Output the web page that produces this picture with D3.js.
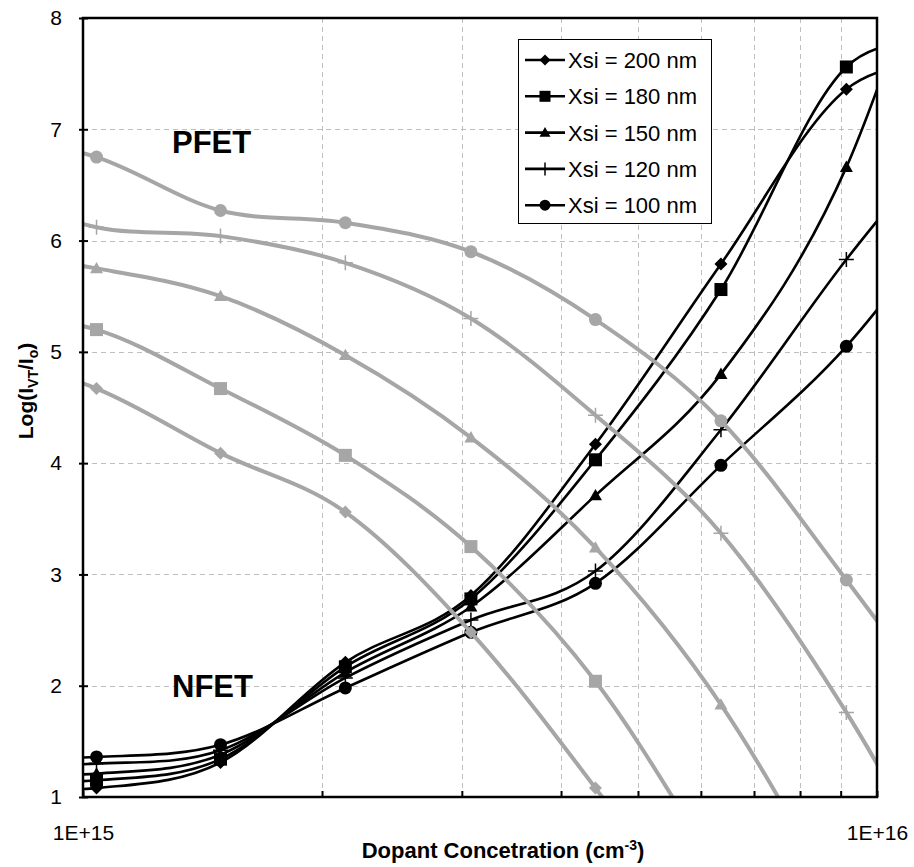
<!DOCTYPE html>
<html>
<head>
<meta charset="utf-8">
<script src="https://cdn.jsdelivr.net/npm/d3@7"></script>
<style>
  html, body { margin: 0; padding: 0; background: #fff; }
  svg { display: block; }
  text { font-family: "Liberation Sans", Arial, sans-serif; }
</style>
</head>
<body>
<svg id="chart" width="914" height="867"></svg>
<script>
// Doping concentrations (cm^-3). The first and last entries sit just outside
// the plotted decade so the smoothed curves run to the frame edges.
const concentration = [0.722e15, 1.04e15, 1.49e15, 2.14e15, 3.08e15, 4.42e15, 6.36e15, 9.15e15, 1.32e16];

// NFET: Log(I_VT/I_o) per silicon thickness
const nfet200 = [1.08, 1.08, 1.31, 2.21, 2.81, 4.17, 5.79, 7.36, 7.62];
const nfet180 = [1.15, 1.15, 1.34, 2.17, 2.78, 4.03, 5.56, 7.56, 7.75];
const nfet150 = [1.21, 1.21, 1.38, 2.12, 2.71, 3.71, 4.80, 6.66, 9.9];
const nfet120 = [1.30, 1.30, 1.42, 2.07, 2.59, 3.03, 4.30, 5.83, 7.2];
const nfet100 = [1.36, 1.36, 1.47, 1.98, 2.48, 2.92, 3.98, 5.05, 6.5];

// PFET: Log(I_VT/I_o) per silicon thickness
const pfet200 = [5.0, 4.67, 4.09, 3.56, 2.48, 1.08, -0.5, -2.2, -4.0];
const pfet180 = [5.35, 5.20, 4.67, 4.07, 3.25, 2.04, 0.3, -1.5, -3.3];
const pfet150 = [5.9, 5.75, 5.50, 4.97, 4.23, 3.24, 1.83, -0.1, -2.3];
const pfet120 = [6.5, 6.12, 6.04, 5.80, 5.30, 4.43, 3.37, 1.76, -0.25];
const pfet100 = [7.0, 6.75, 6.27, 6.16, 5.90, 5.29, 4.38, 2.95, 1.4];

const seriesNames = ["Xsi = 200 nm", "Xsi = 180 nm", "Xsi = 150 nm", "Xsi = 120 nm", "Xsi = 100 nm"];
const markerTypes = ["diamond", "square", "triangle", "plus", "circle"];

const xTickValues = [1e15, 2e15, 3e15, 4e15, 5e15, 6e15, 7e15, 8e15, 9e15, 1e16];
const xTickLabels = { 1e15: "1E+15", 1e16: "1E+16" };
const yTickValues = [1, 2, 3, 4, 5, 6, 7, 8];

const nfetSeries = [nfet200, nfet180, nfet150, nfet120, nfet100];
const pfetSeries = [pfet200, pfet180, pfet150, pfet120, pfet100];

const plotLeft = 83, plotRight = 877, plotTop = 18, plotBottom = 797;
const svg = d3.select("#chart");

const x = d3.scaleLog().domain([1e15, 1e16]).range([plotLeft, plotRight]);
const y = d3.scaleLinear().domain([1, 8]).range([plotBottom, plotTop]);

// gridlines
const grid = svg.append("g").attr("stroke", "#bfbfbf").attr("stroke-width", 1).attr("stroke-dasharray", "5,4");
grid.selectAll("line.v").data(xTickValues.slice(1, -1)).join("line")
  .attr("x1", d => Math.round(x(d)) + 0.5).attr("x2", d => Math.round(x(d)) + 0.5)
  .attr("y1", plotTop).attr("y2", plotBottom);
grid.selectAll("line.h").data(yTickValues.slice(1, -1)).join("line")
  .attr("x1", plotLeft).attr("x2", plotRight)
  .attr("y1", d => Math.round(y(d)) + 0.5).attr("y2", d => Math.round(y(d)) + 0.5);

svg.append("defs").append("clipPath").attr("id", "plotClip")
  .append("rect").attr("x", plotLeft).attr("y", plotTop)
  .attr("width", plotRight - plotLeft).attr("height", plotBottom - plotTop);

function markerPath(type, s) {
  const h = s / 2;
  switch (type) {
    case "diamond": return `M0,${-h}L${h},0L0,${h}L${-h},0Z`;
    case "square": return `M${-h},${-h}h${s}v${s}h${-s}Z`;
    case "triangle": return `M0,${-h}L${h},${h * 0.75}L${-h},${h * 0.75}Z`;
    case "plus": return `M${-h},0H${h}M0,${-h}V${h}`;
    default: return d3.symbol(d3.symbolCircle, Math.PI * h * h)();
  }
}

const line = d3.line()
  .x((d, i) => x(concentration[i]))
  .y(d => y(d))
  .curve(d3.curveCardinal.tension(0));

const plot = svg.append("g").attr("clip-path", "url(#plotClip)");

function drawGroup(series, color, width, markerSize) {
  const g = plot.append("g");
  series.forEach(vals => {
    g.append("path").attr("d", line(vals)).attr("fill", "none")
      .attr("stroke", color).attr("stroke-width", width);
  });
  series.forEach((vals, k) => {
    const type = markerTypes[k];
    g.selectAll(null).data(vals).join("path")
      .attr("transform", (d, i) => `translate(${x(concentration[i])},${y(d)})`)
      .attr("d", markerPath(type, type === "plus" ? markerSize + 2 : markerSize))
      .attr("fill", type === "plus" ? "none" : color)
      .attr("stroke", color)
      .attr("stroke-width", type === "plus" ? 1.5 : 0);
  });
}

drawGroup(nfetSeries, "#000", 2.6, 13);
drawGroup(pfetSeries, "#a6a6a6", 4, 13);

// frame
svg.append("rect").attr("x", plotLeft).attr("y", plotTop)
  .attr("width", plotRight - plotLeft).attr("height", plotBottom - plotTop)
  .attr("fill", "none").attr("stroke", "#000").attr("stroke-width", 2.5);

// axes
const xAxis = d3.axisBottom(x).tickValues(xTickValues)
  .tickFormat(d => xTickLabels[d] || "").tickSizeInner(-6).tickSizeOuter(0).tickPadding(28);
const gx = svg.append("g").attr("transform", `translate(0,${plotBottom})`).call(xAxis);
gx.select(".domain").remove();
gx.selectAll(".tick line").attr("stroke", "#000").attr("stroke-width", 2);
gx.selectAll(".tick text").attr("font-size", 21).attr("fill", "#000")
  .attr("font-family", "Liberation Sans, Arial, sans-serif");

const yAxis = d3.axisLeft(y).tickValues(yTickValues).tickFormat(d3.format("d"))
  .tickSizeInner(4).tickSizeOuter(0).tickPadding(17);
const gy = svg.append("g").attr("transform", `translate(${plotLeft},0)`).call(yAxis);
gy.select(".domain").remove();
gy.selectAll(".tick line").attr("stroke", "#000").attr("stroke-width", 2).attr("x2", -4).attr("x1", 5);
gy.selectAll(".tick text").attr("font-size", 21).attr("fill", "#000")
  .attr("font-family", "Liberation Sans, Arial, sans-serif");

// axis titles
const xt = svg.append("text").attr("x", 503).attr("y", 858).attr("text-anchor", "middle")
  .attr("font-size", 22).attr("font-weight", "bold");
xt.append("tspan").text("Dopant Concetration (cm");
xt.append("tspan").attr("font-size", 14).attr("dy", -8).text("-3");
xt.append("tspan").attr("dy", 8).text(")");

const yt = svg.append("text").attr("transform", "translate(33,391) rotate(-90)")
  .attr("text-anchor", "middle").attr("font-size", 21).attr("font-weight", "bold");
yt.append("tspan").text("Log(I");
yt.append("tspan").attr("font-size", 14).attr("dy", 5).text("VT");
yt.append("tspan").attr("dy", -5).text("/I");
yt.append("tspan").attr("font-size", 14).attr("dy", 5).text("o");
yt.append("tspan").attr("dy", -5).text(")");

// device labels
svg.append("text").attr("x", 172).attr("y", 153).attr("font-family", "Lato, 'Open Sans', sans-serif")
  .attr("font-size", 31).attr("font-weight", "bold").text("PFET");
svg.append("text").attr("x", 172).attr("y", 697).attr("font-family", "Lato, 'Open Sans', sans-serif")
  .attr("font-size", 31).attr("font-weight", "bold").text("NFET");

// legend
const lg = svg.append("g");
lg.append("rect").attr("x", 518.5).attr("y", 39.5).attr("width", 193).attr("height", 184)
  .attr("fill", "#fff").attr("stroke", "#000").attr("stroke-width", 1);
seriesNames.forEach((name, k) => {
  const cy = 60 + k * 36.3;
  lg.append("line").attr("x1", 525).attr("x2", 565).attr("y1", cy).attr("y2", cy)
    .attr("stroke", "#000").attr("stroke-width", 2.6);
  const type = markerTypes[k];
  lg.append("path").attr("transform", `translate(545,${cy})`)
    .attr("d", markerPath(type, type === "plus" ? 13 : 11))
    .attr("fill", type === "plus" ? "none" : "#000").attr("stroke", "#000")
    .attr("stroke-width", type === "plus" ? 1.5 : 0);
  lg.append("text").attr("x", 568).attr("y", cy + 8).attr("font-size", 22).text(name);
});
</script>
</body>
</html>
